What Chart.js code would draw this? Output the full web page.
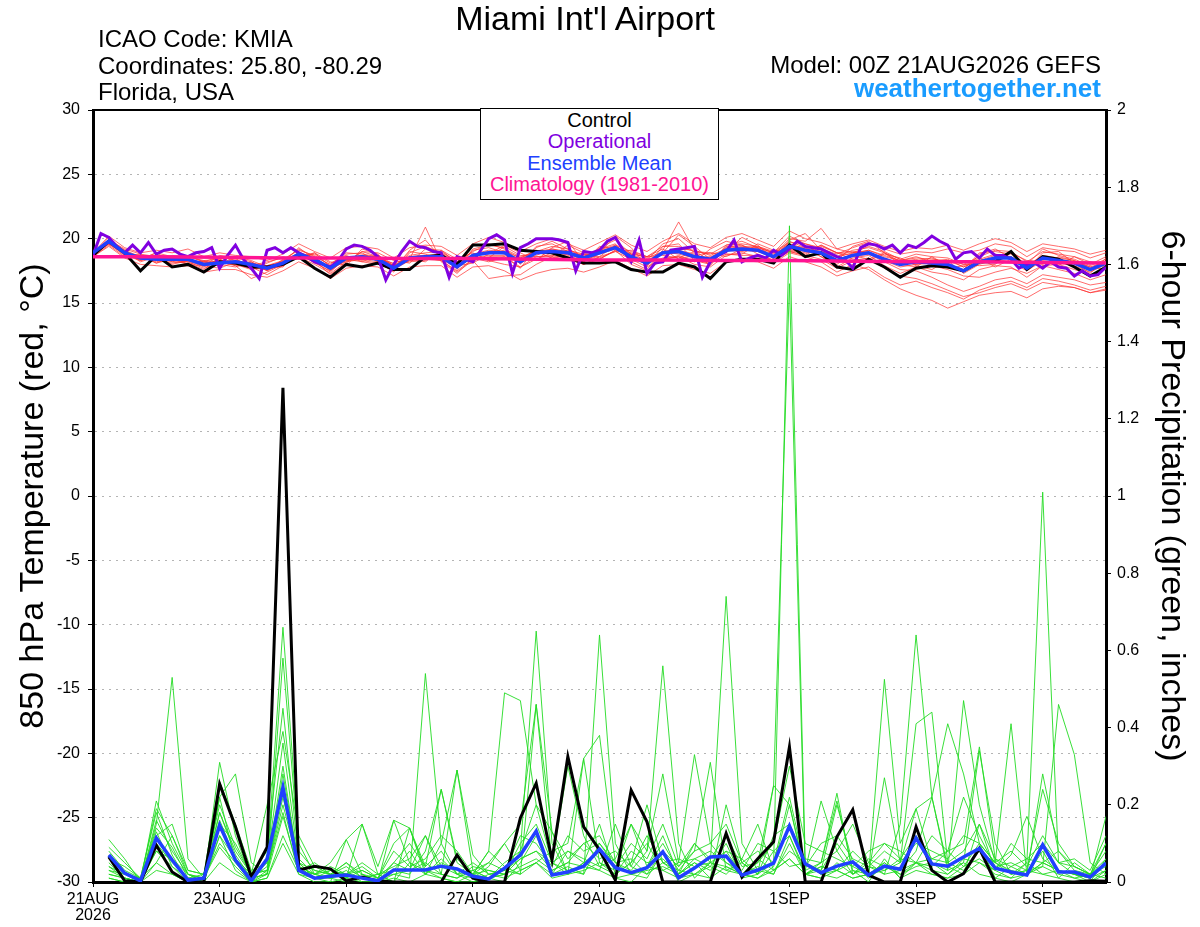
<!DOCTYPE html>
<html>
<head>
<meta charset="utf-8">
<title>Miami Int'l Airport - GEFS</title>
<script src="https://cdn.jsdelivr.net/npm/chart.js@4.4.1/dist/chart.umd.min.js"></script>
<style>
  body { margin: 0; background: #fff; font-family: "Liberation Sans", Arial, sans-serif; }
  #wrap { position: relative; width: 1200px; height: 927px; overflow: hidden; }
  #chart { position: absolute; left: 0; top: 0; }
  .txt { position: absolute; white-space: nowrap; color: #000; }
  #title { left: 0; width: 1170px; top: 1px; text-align: center; font-size: 34px; line-height: 34px; }
  #info { left: 98px; top: 26px; font-size: 24px; line-height: 26.5px; }
  #model { right: 99px; top: 52px; font-size: 24px; line-height: 26.5px; }
  #site { right: 99px; top: 75px; font-size: 26px; line-height: 26px; font-weight: bold; color: #1a9cff; }
  #legend { position: absolute; left: 480px; top: 108px; width: 237px; height: 89px; border: 1.5px solid #000;
            background: #fff; text-align: center; font-size: 20px; line-height: 21.3px; padding-top: 1px; box-sizing: content-box; }
</style>
</head>
<body>
<div id="wrap">
  <canvas id="chart" width="1200" height="927"></canvas>
  <div class="txt" id="title">Miami Int'l Airport</div>
  <div class="txt" id="info">ICAO Code: KMIA<br>Coordinates: 25.80, -80.29<br>Florida, USA</div>
  <div class="txt" id="model">Model: 00Z 21AUG2026 GEFS</div>
  <div class="txt" id="site">weathertogether.net</div>
  <div id="legend">
    <div style="color:#000">Control</div>
    <div style="color:#8000e0">Operational</div>
    <div style="color:#2040ff">Ensemble Mean</div>
    <div style="color:#ff1493">Climatology (1981-2010)</div>
  </div>
</div>
<script>
// time axis: hours after 00Z 21AUG2026, members every 6 h, operational every 3 h
const tickHours = [0, 48, 96, 144, 192, 264, 312, 360];
const tickLabels = [["21AUG", "2026"], "23AUG", "25AUG", "27AUG", "29AUG", "1SEP", "3SEP", "5SEP"];

// 850 hPa temperature (C)
const controlTemp = [
  18.7,19.8,18.9,17.5,18.7,17.8,18.0,17.4,18.2,18.1,17.8,17.8,18.0,
  18.6,17.7,17.0,18.0,17.8,18.1,17.6,17.6,18.6,18.7,18.0,19.5,19.5,
  19.6,19.1,19.0,18.9,18.5,18.1,18.1,18.2,17.6,17.4,17.4,18.1,17.8,
  16.9,18.2,18.4,18.4,18.1,19.5,18.6,18.9,17.8,17.6,18.4,17.8,17.0,
  17.7,17.9,17.8,17.5,18.2,18.2,19.0,17.6,18.6,18.4,17.8,17.1,17.8
];
const meanTemp = [
  18.9,19.8,18.9,18.5,18.4,18.4,18.4,18.0,18.1,18.2,18.0,17.7,18.1,
  18.8,18.4,17.7,18.5,18.6,18.4,17.7,18.5,18.6,18.6,17.8,18.7,18.9,
  18.9,18.2,18.9,19.0,18.9,18.5,18.9,19.3,18.6,18.1,18.9,19.0,18.6,
  18.4,19.1,19.2,19.1,18.6,19.4,19.1,18.9,18.3,18.7,18.9,18.4,18.0,
  18.2,18.1,18.0,17.5,18.2,18.5,18.5,17.7,18.5,18.3,18.1,17.6,18.1
];
const operTemp = [
  18.7,20.4,20.1,19.4,18.9,19.5,18.9,19.7,18.8,19.1,19.2,18.8,18.6,18.9,19.0,19.3,
  17.7,18.7,19.5,18.4,17.7,16.9,19.1,19.3,18.9,19.3,18.9,18.6,18.2,18.0,17.8,18.3,
  19.2,19.5,19.4,19.1,18.6,16.8,18.0,19.0,19.8,19.4,19.3,19.0,18.9,17.0,18.6,18.4,
  18.2,19.1,20.0,20.3,19.9,17.3,19.3,19.6,20.0,20.0,20.0,19.9,19.7,17.5,19.0,18.9,
  19.1,19.8,20.1,19.1,18.2,19.9,17.3,18.1,18.2,19.1,19.2,19.3,19.4,17.0,18.2,18.7,
  19.0,19.9,18.2,18.5,18.7,18.5,19.1,18.7,19.2,19.8,19.4,19.3,19.2,18.9,18.6,18.4,
  17.7,19.3,19.6,19.5,19.2,19.5,18.9,19.5,19.3,19.7,20.2,19.8,19.5,18.4,18.9,19.0,
  18.5,19.2,18.7,18.7,18.4,17.7,18.0,18.1,17.7,18.2,17.8,17.7,17.1,17.5,17.1,17.2,
  17.8
];
// climatology, one value per day
const climTemp = [18.6,18.6,18.55,18.5,18.5,18.45,18.45,18.4,18.35,18.35,18.3,18.3,18.25,18.2,18.2,18.15,18.1];

const tempMembers = [
  [18.8,19.9,19.0,18.2,18.6,18.0,18.3,17.8,18.4,18.0,17.6,17.9,18.3,
   18.9,18.1,17.5,18.8,18.9,18.2,17.4,18.9,19.4,18.9,17.6,19.2,19.5,
   19.3,18.0,19.4,19.6,19.0,18.2,19.3,19.9,18.8,17.9,19.4,19.6,18.3,
   18.0,19.5,19.8,19.3,18.2,19.8,19.3,18.6,17.8,18.5,18.7,17.9,17.3,
   17.8,17.4,17.2,16.8,17.6,17.9,17.8,17.0,17.9,17.6,17.3,16.8,17.2],
  [18.9,19.6,18.8,18.7,18.3,18.7,18.6,18.3,17.9,18.5,18.2,17.5,18.4,
   19.1,18.7,17.9,18.3,18.4,18.7,18.0,18.2,18.3,18.9,18.2,18.4,18.5,
   19.4,18.7,18.6,18.6,19.5,18.9,18.5,19.0,19.1,18.6,18.7,18.5,19.0,
   18.9,18.8,18.8,19.6,19.1,19.0,18.7,19.4,18.9,18.4,18.3,18.8,18.5,
   17.9,17.6,18.3,18.0,17.9,18.0,18.9,18.3,18.2,17.9,18.6,18.2,17.8],
  [18.7,19.7,18.7,18.4,18.9,18.2,18.1,17.6,18.6,18.4,17.8,17.2,17.9,
   18.6,18.9,17.8,18.2,19.0,18.6,17.9,18.4,20.9,18.2,17.3,18.5,18.2,
   18.6,17.7,19.3,19.8,19.2,18.6,19.2,19.6,18.2,17.6,19.1,21.3,19.1,
   18.2,19.3,19.5,19.0,18.7,20.0,19.8,20.8,19.2,18.9,19.4,19.0,18.4,
   18.8,18.6,18.5,18.0,18.6,19.1,19.0,18.2,19.0,18.8,18.6,18.0,18.6],
  [18.8,19.8,19.1,18.6,18.2,18.5,18.7,18.2,18.2,17.9,16.9,17.4,18.0,
   18.7,18.2,17.4,18.6,18.3,18.1,17.5,18.6,18.5,18.3,17.4,18.3,16.9,
   17.1,17.2,18.0,18.6,18.4,18.0,18.4,19.1,18.0,17.5,18.4,18.6,18.0,
   17.8,18.7,18.9,18.6,18.1,18.9,18.6,18.2,17.4,18.0,17.6,16.8,16.1,
   15.6,15.2,14.6,15.1,15.6,15.8,15.9,15.4,16.1,16.3,16.2,15.8,16.1],
  [18.9,19.8,18.9,18.6,18.5,18.3,18.4,18.1,18.3,18.1,18.1,17.9,18.2,
   18.8,18.5,17.8,18.4,18.7,18.5,17.8,18.6,18.7,18.6,17.9,18.8,19.0,
   18.8,18.3,18.9,19.1,18.8,18.4,19.0,19.4,18.7,18.2,18.8,18.9,18.7,
   18.5,19.2,19.1,19.0,18.5,19.3,19.0,18.8,18.3,18.8,19.1,18.6,18.3,
   18.6,18.2,18.4,17.8,18.4,18.8,18.6,17.9,18.7,18.5,18.3,17.7,18.3],
  [18.6,19.5,18.6,18.8,18.1,18.6,18.2,17.7,18.0,18.6,18.3,17.8,17.8,
   19.0,18.3,17.2,18.1,19.0,18.9,18.3,18.1,19.2,19.1,18.4,18.9,18.3,
   18.0,17.8,18.4,18.9,19.1,18.8,18.6,19.5,18.5,18.3,19.6,20.0,18.9,
   17.9,19.4,19.3,19.4,18.9,20.2,19.6,19.3,18.6,19.1,19.3,18.9,18.2,
   18.4,17.9,17.6,17.1,17.0,17.4,17.7,17.3,17.9,18.0,17.6,17.2,17.7],
  [18.8,20.1,19.0,18.3,18.7,18.4,18.0,18.3,18.4,17.9,17.9,18.2,18.5,
   18.6,18.8,18.1,18.7,18.2,18.0,17.6,19.0,18.8,18.4,17.7,18.6,18.9,
   19.1,18.5,19.1,18.8,18.6,18.2,19.4,19.2,18.4,18.4,18.3,18.7,18.2,
   19.2,19.8,19.5,18.8,18.3,19.0,19.2,18.6,18.0,18.9,19.0,18.3,17.8,
   18.0,18.1,18.3,17.3,18.0,18.4,18.2,17.5,18.3,18.1,17.9,17.4,18.0],
  [18.7,19.6,18.8,18.4,18.4,18.2,18.5,17.9,17.7,18.2,18.0,17.6,18.1,
   18.9,18.6,17.6,18.3,18.6,18.3,17.7,18.3,18.6,18.7,17.8,18.5,18.7,
   18.7,18.1,18.7,19.2,18.9,18.7,18.9,19.3,18.9,18.5,19.0,18.8,18.5,
   18.6,19.0,19.3,19.2,18.8,19.5,19.3,19.0,18.5,18.6,18.8,18.2,17.6,
   17.5,17.0,16.4,15.9,16.3,16.8,17.0,16.5,17.2,17.0,16.8,16.4,16.6],
  [18.9,19.9,19.2,18.8,18.6,18.6,18.6,18.2,18.6,18.3,17.8,17.7,18.3,
   19.2,18.6,18.0,18.9,18.8,18.6,17.9,18.7,18.9,19.0,18.2,19.0,19.6,
   19.2,18.6,19.0,19.4,19.2,18.5,19.1,19.5,19.0,18.6,19.4,19.4,19.0,
   18.8,19.5,19.6,19.4,19.0,19.7,19.6,19.2,18.8,19.3,19.7,19.2,18.8,
   19.0,18.9,19.2,18.9,19.1,19.6,19.4,18.6,19.3,19.1,19.0,18.5,18.9],
  [18.8,19.7,18.9,18.5,18.3,18.1,18.3,17.9,18.1,18.0,17.7,17.6,18.0,
   18.6,18.0,17.3,18.2,18.4,18.2,17.6,18.3,18.4,18.3,17.5,18.4,18.6,
   18.6,17.8,18.6,18.7,18.5,18.0,18.6,19.0,18.4,17.8,18.5,18.6,18.3,
   18.1,18.8,18.7,18.7,18.3,19.0,18.7,18.4,17.7,18.3,18.5,17.7,17.1,
   16.9,16.5,16.0,15.5,15.8,16.2,16.5,16.0,16.6,16.4,16.2,15.8,16.0],
  [18.7,19.8,19.0,18.6,18.5,18.4,18.5,18.0,18.3,18.2,18.0,17.8,18.2,
   18.7,18.4,17.8,18.5,18.7,18.6,17.9,18.6,18.7,18.8,18.0,18.8,19.1,
   19.0,18.5,19.0,19.2,19.0,18.6,19.0,19.4,18.8,18.3,19.0,19.2,19.1,
   18.7,19.2,19.4,19.3,18.9,19.6,19.2,19.0,18.6,18.9,19.1,18.7,18.3,
   18.5,18.4,18.3,17.8,18.3,18.7,18.6,17.9,18.6,18.4,18.2,17.8,18.2],
  [18.8,19.6,18.7,18.3,18.6,18.3,18.2,18.1,18.2,18.3,18.1,17.5,18.1,
   19.3,18.4,17.6,18.6,18.5,18.4,18.1,18.5,18.5,18.6,17.8,19.1,19.3,
   18.9,18.4,18.8,19.0,18.7,18.3,18.8,19.2,18.6,18.0,19.0,19.1,18.8,
   18.3,19.1,19.0,19.2,18.5,19.2,18.9,19.5,18.9,19.0,18.9,18.5,18.0,
   18.3,18.5,18.0,17.6,18.9,19.0,18.8,18.0,19.2,18.7,18.4,17.9,18.4],
  [18.9,20.2,19.3,18.9,19.1,18.9,19.2,18.6,18.9,18.7,18.6,18.3,18.8,
   19.6,19.0,18.5,19.3,19.4,19.2,18.5,19.3,19.5,19.4,18.7,19.6,20.1,
   19.7,19.0,19.6,20.0,19.6,19.1,19.7,20.3,19.5,19.0,19.8,20.4,19.6,
   19.3,20.1,20.4,19.9,19.4,20.6,20.0,19.7,19.2,19.6,19.9,19.4,19.0,
   19.3,19.2,19.5,19.1,19.6,20.0,19.7,19.0,19.6,19.4,19.2,18.8,19.1],
  [18.6,19.4,18.5,18.0,17.9,17.8,17.9,17.4,17.6,17.6,17.2,17.0,17.5,
   18.2,17.7,16.9,17.7,17.9,17.8,17.1,17.8,17.9,17.9,17.0,17.8,17.9,
   17.5,16.8,17.3,17.6,17.7,17.4,17.8,18.3,17.7,17.1,17.9,18.0,17.6,
   17.3,18.2,18.3,18.2,17.7,18.6,18.2,17.8,17.1,17.5,17.8,17.0,16.4,
   16.7,16.2,15.8,15.3,16.0,16.4,16.7,16.2,16.9,16.7,16.4,16.0,16.3],
  [18.8,19.9,19.1,18.4,18.9,18.6,18.0,17.9,18.7,18.5,17.6,18.1,18.6,
   18.4,18.9,18.2,17.9,19.2,18.8,17.6,19.1,19.9,18.5,17.9,18.1,18.8,
   19.5,18.9,18.3,19.3,19.8,18.2,18.9,20.2,19.3,17.9,18.9,20.3,19.4,
   18.4,19.0,20.1,19.5,18.4,19.9,20.4,19.1,18.3,19.4,19.8,18.9,18.0,
   17.8,18.6,17.9,17.4,18.8,19.2,18.5,17.6,18.9,19.0,18.1,17.3,18.5],
  [18.7,19.6,18.9,18.6,18.1,18.4,18.3,18.2,18.0,17.8,18.2,17.6,17.9,
   18.7,18.5,17.5,18.4,18.2,18.7,17.8,18.4,18.2,19.1,18.1,18.6,18.3,
   18.4,18.4,19.0,18.5,18.8,18.8,18.4,19.1,18.8,18.6,19.2,18.4,18.7,
   18.9,18.6,19.2,19.3,18.9,19.1,18.8,19.5,18.9,18.7,18.4,18.9,18.4,
   18.0,18.3,17.7,17.9,18.5,17.8,18.4,18.1,18.0,18.6,18.3,17.8,17.6]
];

// 6-hour precipitation (inches), nothing at hour 0
const controlPrecip = [
  null,0.065,0.003,0,0.095,0.026,0,0,0.254,0.143,0.013,0.09,1.28,
  0.031,0.041,0.034,0.003,0.013,0.003,0,0,0,0,0.07,0.01,0,
  0,0.166,0.256,0.057,0.325,0.143,0.083,0.005,0.238,0.156,0,0,0,
  0,0.126,0.013,0.06,0.104,0.35,0,0,0.117,0.187,0.018,0,0,
  0.143,0.03,0,0.022,0.087,0,0,0,0,0,0,0.003,0.002
];
const meanPrecip = [
  null,0.07,0.023,0.003,0.114,0.057,0.005,0.01,0.147,0.057,0.003,0.06,0.245,
  0.03,0.01,0.015,0.018,0.01,0.003,0.031,0.031,0.031,0.041,0.034,0.015,0.008,
  0.036,0.07,0.132,0.018,0.026,0.041,0.085,0.037,0.024,0.037,0.078,0.011,0.036,
  0.065,0.067,0.018,0.031,0.049,0.145,0.047,0.024,0.041,0.052,0.018,0.041,0.033,
  0.114,0.047,0.041,0.065,0.087,0.036,0.026,0.018,0.096,0.026,0.026,0.013,0.049
];
const precipMembers = [
  [null,0.05,0.01,0,0.21,0.10,0.02,0,0.31,0.12,0.01,0.05,0.66,
   0.10,0.02,0.01,0.03,0,0,0.02,0.01,0.54,0.10,0.02,0,0.01,
   0,0.05,0.12,0.02,0.04,0.02,0.64,0.10,0.02,0.01,0.08,0,0.02,
   0.04,0.10,0.01,0.02,0.05,1.70,0.05,0.02,0.01,0.03,0,0.06,0.01,
   0.05,0.02,0.01,0.04,0.10,0.01,0,0.02,0.08,0.01,0,0,0.03],
  [null,0.11,0.06,0,0.15,0.53,0.06,0.01,0.10,0.05,0,0.02,0.25,
   0.05,0.01,0,0.11,0.02,0,0.05,0.03,0.12,0.02,0.29,0.03,0.01,
   0.02,0.08,0.65,0.10,0.02,0.05,0.08,0.01,0,0.04,0.12,0.02,0.05,
   0.01,0.20,0.05,0.02,0.25,1.55,0.02,0.05,0.21,0.03,0.02,0.27,0.05,
   0.19,0.22,0.04,0.02,0.15,0.03,0.01,0.05,1.01,0.05,0.02,0.01,0.10],
  [null,0.08,0.03,0.01,0.18,0.07,0,0,0.22,0.28,0.05,0.02,0.58,
   0.08,0.03,0.02,0.01,0.15,0.02,0,0.14,0.04,0.24,0.05,0.02,0.08,
   0.49,0.47,0.20,0.05,0.03,0.02,0.10,0.05,0.03,0.08,0.56,0.10,0.01,
   0.05,0.03,0.02,0.01,0.04,0.20,0.02,0.01,0.05,0.02,0.04,0.02,0.15,
   0.64,0.22,0.03,0.05,0.02,0.01,0.04,0.02,0.05,0.03,0.02,0,0.06],
  [null,0.03,0.02,0,0.12,0.15,0.03,0.02,0.18,0.08,0.02,0.20,0.39,
   0.12,0.04,0.02,0.05,0.01,0,0.16,0.14,0.03,0.01,0,0.02,0.08,
   0.04,0.02,0.46,0.13,0.02,0.32,0.38,0.05,0.02,0.03,0.04,0.02,0.10,
   0.05,0.74,0.10,0.03,0.02,0.12,0.02,0.03,0.10,0.04,0.02,0.525,0.10,
   0.19,0.05,0.03,0.47,0.20,0.05,0.02,0.03,0.02,0.01,0.05,0.02,0.01],
  [null,0.02,0.01,0,0.10,0.05,0.01,0.02,0.26,0.15,0.03,0.05,0.36,
   0.05,0.01,0.03,0.02,0.01,0.02,0,0.05,0.02,0.10,0.29,0.07,0.02,
   0.03,0.02,0.05,0.02,0.08,0.05,0.15,0.02,0.05,0.10,0.03,0.05,0.33,
   0.10,0.05,0.02,0.04,0.02,0.10,0.02,0.04,0.03,0.05,0.01,0.04,0.02,
   0.05,0.04,0.08,0.10,0.35,0.06,0.02,0.03,0.04,0.46,0.33,0.05,0.02],
  [null,0.04,0.02,0.01,0.08,0.04,0,0,0.22,0.05,0.01,0.02,0.17,
   0.03,0.05,0.02,0.01,0.03,0.01,0.02,0.03,0.05,0.02,0.01,0.03,0.05,
   0.10,0.03,0.05,0.08,0.10,0.32,0.05,0.03,0.15,0.04,0.10,0.03,0.08,
   0.31,0.03,0.05,0.02,0.08,0.04,0.05,0.02,0.03,0.01,0.02,0.03,0.05,
   0.41,0.44,0.05,0.03,0.08,0.05,0.41,0.02,0.05,0.03,0.02,0.01,0.17],
  [null,0.06,0.04,0.01,0.05,0.12,0.02,0.01,0.12,0.06,0.02,0.03,0.20,
   0.04,0.02,0.03,0.02,0.05,0.02,0.03,0.08,0.02,0.05,0.03,0.02,0.05,
   0.03,0.06,0.08,0.05,0.30,0.12,0.04,0.02,0.05,0.20,0.05,0.02,0.06,
   0.08,0.05,0.03,0.10,0.08,0.12,0.03,0.21,0.08,0.02,0.06,0.04,0.03,
   0.08,0.22,0.41,0.28,0.10,0.05,0.03,0.02,0.28,0.08,0.03,0.02,0.05],
  [null,0.01,0,0,0.05,0.02,0,0.01,0.15,0.10,0.02,0.08,0.45,
   0.06,0.02,0.01,0,0.02,0,0.03,0.02,0.08,0.24,0.06,0.02,0.01,
   0.02,0.10,0.15,0.05,0.02,0.03,0.05,0.02,0.08,0.05,0.06,0.02,0.05,
   0.03,0.08,0.02,0.05,0.25,0.20,0.03,0.05,0.23,0.02,0.05,0.02,0.03,
   0.05,0.03,0.02,0.05,0.34,0.10,0.02,0.05,0.02,0.03,0.01,0.02,0.10],
  [null,0.03,0.01,0,0.08,0.06,0.02,0.01,0.09,0.04,0,0.01,0.12,
   0.03,0.02,0.05,0.11,0.15,0.04,0.16,0.05,0.03,0.02,0.01,0.04,0.03,
   0.02,0.04,0.06,0.03,0.05,0.04,0.03,0.15,0.04,0.02,0.05,0.03,0.02,
   0.05,0.04,0.02,0.06,0.03,0.08,0.05,0.03,0.20,0.05,0.02,0.05,0.02,
   0.04,0.05,0.02,0.06,0.05,0.03,0.07,0.17,0.06,0.03,0.02,0.01,0.03],
  [null,0.02,0.01,0,0.14,0.09,0.01,0,0.18,0.07,0.01,0.04,0.30,
   0.04,0.01,0.02,0.05,0.02,0.01,0.10,0.14,0.02,0.06,0.02,0.01,0.04,
   0.10,0.15,0.46,0.05,0.08,0.06,0.04,0.06,0.15,0.08,0.28,0.05,0.06,
   0.04,0.02,0.06,0.15,0.03,0.06,0.02,0.04,0.03,0.08,0.04,0.03,0.06,
   0.05,0.06,0.08,0.22,0.12,0.04,0.05,0.03,0.24,0.10,0.04,0.02,0.06],
  [null,0.01,0,0,0.03,0.02,0,0,0.05,0.02,0,0.01,0.10,
   0.02,0,0,0.01,0,0,0.01,0,0.02,0.01,0,0,0.02,
   0.01,0.03,0.05,0.01,0.02,0.05,0.03,0.01,0.02,0.04,0.03,0.01,0.02,
   0.01,0.04,0.02,0.01,0.03,0.06,0.02,0.01,0.03,0.01,0.02,0.05,0.01,
   0.03,0.02,0.01,0.02,0.05,0.02,0.01,0.02,0.04,0.02,0.01,0,0.02],
  [null,0.09,0.05,0.01,0.19,0.12,0.03,0.02,0.20,0.09,0.02,0.03,0.22,
   0.05,0.03,0.02,0.04,0.01,0.02,0.04,0.06,0.12,0.04,0.02,0.03,0.01,
   0.05,0.08,0.20,0.13,0.06,0.10,0.12,0.05,0.06,0.02,0.08,0.04,0.10,
   0.06,0.12,0.04,0.05,0.10,0.30,0.10,0.08,0.06,0.04,0.08,0.10,0.06,
   0.12,0.06,0.05,0.08,0.15,0.06,0.04,0.06,0.10,0.05,0.04,0.02,0.08],
  [null,0.07,0.02,0.01,0.13,0.04,0.01,0.01,0.16,0.06,0.01,0.02,0.28,
   0.04,0.02,0.04,0.02,0.03,0.01,0.05,0.10,0.04,0.08,0.02,0.05,0.02,
   0.03,0.12,0.10,0.04,0.12,0.08,0.10,0.04,0.10,0.06,0.15,0.04,0.08,
   0.10,0.15,0.05,0.08,0.05,0.22,0.04,0.10,0.12,0.06,0.04,0.08,0.05,
   0.10,0.08,0.06,0.12,0.10,0.05,0.08,0.04,0.12,0.05,0.06,0.03,0.12],
  [null,0.04,0.01,0,0.16,0.08,0.02,0,0.12,0.03,0,0.03,0.18,
   0.02,0.01,0.01,0.02,0.04,0.01,0.08,0.04,0.06,0.12,0.08,0.02,0.03,
   0.02,0.06,0.08,0.03,0.05,0.10,0.06,0.08,0.04,0.12,0.05,0.06,0.04,
   0.05,0.08,0.06,0.02,0.12,0.15,0.06,0.05,0.08,0.15,0.05,0.10,0.08,
   0.05,0.12,0.08,0.04,0.06,0.03,0.10,0.06,0.05,0.08,0.04,0.02,0.04]
];

const FONT = '"Liberation Sans", Arial, sans-serif';

// turn a value list into {x: hour, y: value} points
function toPoints(values, hoursPerStep) {
  return values.map((v, i) => ({ x: i * hoursPerStep, y: v }));
}

const datasets = [];
tempMembers.forEach(m => datasets.push({
  data: toPoints(m, 6), yAxisID: 'y', borderColor: 'rgba(255,45,45,0.7)', borderWidth: 1, order: 10
}));
precipMembers.forEach(m => datasets.push({
  data: toPoints(m, 6), yAxisID: 'y1', borderColor: 'rgba(35,220,35,0.9)', borderWidth: 1, order: 9
}));
datasets.push({ data: toPoints(controlPrecip, 6), yAxisID: 'y1', borderColor: '#000', borderWidth: 3, order: 6 });
datasets.push({ data: toPoints(meanPrecip, 6), yAxisID: 'y1', borderColor: '#2040ff', borderWidth: 3.5, order: 5 });
datasets.push({ data: toPoints(controlTemp, 6), yAxisID: 'y', borderColor: '#000', borderWidth: 3, order: 4 });
datasets.push({ data: toPoints(operTemp, 3), yAxisID: 'y', borderColor: '#8000e0', borderWidth: 3, order: 3 });
datasets.push({ data: toPoints(meanTemp, 6), yAxisID: 'y', borderColor: '#2040ff', borderWidth: 3.5, order: 2 });
datasets.push({ data: toPoints(climTemp, 24), yAxisID: 'y', borderColor: '#ff1493', borderWidth: 3.5, order: 1 });

// solid line along the top of the plot
const topFrame = {
  id: 'topFrame',
  afterDraw(chart) {
    const { ctx, chartArea: a } = chart;
    ctx.save();
    ctx.strokeStyle = '#000';
    ctx.lineWidth = 2;
    ctx.beginPath();
    ctx.moveTo(a.left, a.top);
    ctx.lineTo(a.right, a.top);
    ctx.stroke();
    ctx.restore();
  }
};

new Chart(document.getElementById('chart'), {
  type: 'line',
  data: { datasets: datasets },
  plugins: [topFrame],
  options: {
    responsive: false,
    animation: false,
    devicePixelRatio: 1,
    layout: { padding: { top: 110, left: 0, right: 0, bottom: 0 } },
    elements: { point: { radius: 0 }, line: { tension: 0, fill: false } },
    plugins: { legend: { display: false }, tooltip: { enabled: false } },
    scales: {
      x: {
        type: 'linear', min: 0, max: 384,
        afterBuildTicks: s => { s.ticks = tickHours.map(v => ({ value: v })); },
        afterFit: s => { s.height = 45; },
        ticks: {
          autoSkip: false, maxRotation: 0, color: '#000', padding: 5,
          font: { family: FONT, size: 16, lineHeight: 1 },
          callback: v => { const i = tickHours.indexOf(v); return i < 0 ? '' : tickLabels[i]; }
        },
        grid: { drawOnChartArea: false, drawTicks: true, tickLength: 5, tickColor: '#000', tickWidth: 1 },
        border: { display: true, color: '#000', width: 3 }
      },
      y: {
        position: 'left', min: -30, max: 30,
        afterFit: s => { s.width = 93; },
        ticks: { stepSize: 5, color: '#000', padding: 8, font: { family: FONT, size: 16 } },
        grid: { color: '#b4b4b4', lineWidth: 1, tickColor: '#000', tickLength: 5, tickWidth: 1 },
        border: { display: true, color: '#000', width: 3, dash: [2, 5] },
        title: { display: true, text: '850 hPa Temperature (red, \u00B0C)', color: '#000',
                 font: { family: FONT, size: 34 }, padding: { top: 13, bottom: 0 } }
      },
      y1: {
        position: 'right', min: 0, max: 2,
        afterFit: s => { s.width = 94; },
        ticks: { stepSize: 0.2, color: '#000', padding: 6, font: { family: FONT, size: 16 },
                 callback: v => String(Math.round(v * 10) / 10) },
        grid: { drawOnChartArea: false, tickColor: '#000', tickLength: 5, tickWidth: 1 },
        border: { display: true, color: '#000', width: 3 },
        title: { display: true, text: '6-hour Precipitation (green, inches)', color: '#000',
                 font: { family: FONT, size: 34 }, padding: { top: 8, bottom: 0 } }
      }
    }
  }
});
</script>
</body>
</html>
